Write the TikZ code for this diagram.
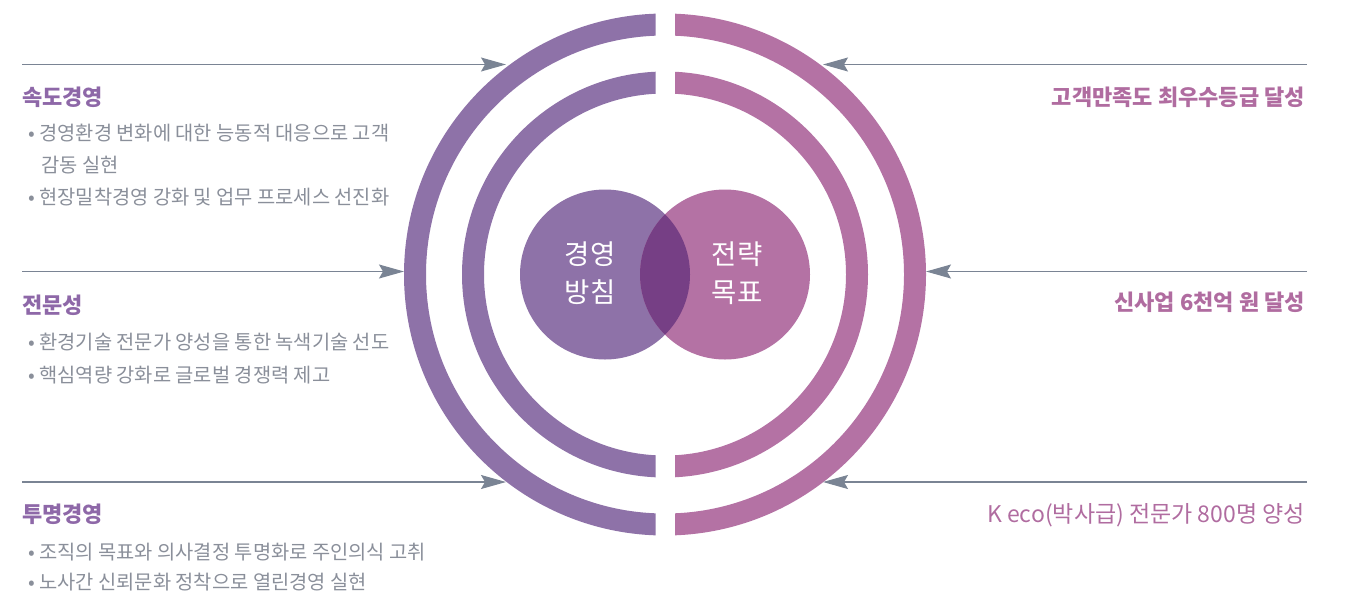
\documentclass[tikz,border=0pt]{standalone}
\usepackage{fontspec}
\setmainfont{Noto Sans CJK KR}
\usetikzlibrary{arrows.meta}
\definecolor{lpurple}{HTML}{8E72A8}
\definecolor{rpink}{HTML}{B472A4}
\definecolor{overlap}{HTML}{763F85}
\definecolor{arrowc}{HTML}{7A8494}
\definecolor{headc}{HTML}{8E68A8}
\definecolor{headr}{HTML}{B06CA0}
\definecolor{bodyc}{HTML}{8A8F9A}
\tikzset{
  conn/.style={draw=arrowc, line width=1.1pt, -{Stealth[length=25pt,width=14pt,inset=4pt,fill=arrowc]}},
  head/.style={anchor=west, inner sep=0pt, font=\fontsize{22}{26}\selectfont\bfseries, text=headc},
  headright/.style={anchor=east, inner sep=0pt, font=\fontsize{22}{26}\selectfont\bfseries, text=headr},
  body/.style={anchor=west, inner sep=0pt, font=\fontsize{19.8}{22}\selectfont, text=bodyc},
  incirc/.style={inner sep=0pt, align=center, text=white, font=\fontsize{27.5}{37.5}\selectfont},
}
\begin{document}
\begin{tikzpicture}[x=1pt,y=-1pt]
\useasboundingbox (0,0) rectangle (1349,598);
% rings
\begin{scope}
  \clip (0,0) rectangle (655.5,598);
  \fill[lpurple, even odd rule] (665,274.5) circle[radius=261pt] circle[radius=239pt];
  \fill[lpurple, even odd rule] (665,274.5) circle[radius=203pt] circle[radius=181pt];
\end{scope}
\begin{scope}
  \clip (675,0) rectangle (1349,598);
  \fill[rpink, even odd rule] (665,274.5) circle[radius=261pt] circle[radius=239pt];
  \fill[rpink, even odd rule] (665,274.5) circle[radius=203pt] circle[radius=181pt];
\end{scope}
% venn
\fill[lpurple] (605,274.5) circle[radius=85pt];
\fill[rpink] (725,274.5) circle[radius=85pt];
\begin{scope}
  \clip (605,274.5) circle[radius=85pt];
  \fill[overlap] (725,274.5) circle[radius=85pt];
\end{scope}
\node[incirc] (lc) at (590,273) {경영\\방침};
\node[incirc] (rc) at (737,273) {전략\\목표};
% arrows
\coordinate (l1s) at (22,64.5);   \coordinate (l1e) at (506,64.5);
\coordinate (l2s) at (22,271.5);  \coordinate (l2e) at (404,271.5);
\coordinate (l3s) at (22,482);    \coordinate (l3e) at (506,482);
\coordinate (r1s) at (1307,64.5); \coordinate (r1e) at (823,64.5);
\coordinate (r2s) at (1307,271.5);\coordinate (r2e) at (926,271.5);
\coordinate (r3s) at (1307,482);  \coordinate (r3e) at (823,482);
\draw[conn] (l1s) -- (l1e);
\draw[conn] (l2s) -- (l2e);
\draw[conn] (l3s) -- (l3e);
\draw[conn] (r1s) -- (r1e);
\draw[conn] (r2s) -- (r2e);
\draw[conn] (r3s) -- (r3e);
% left texts
\node[head] (h1) at (22,97) {속도경영};
\node[body] (b11) at (28,133) {• 경영환경 변화에 대한 능동적 대응으로 고객};
\node[body] (b12) at (41,165) {감동 실현};
\node[body] (b13) at (28,197) {• 현장밀착경영 강화 및 업무 프로세스 선진화};
\node[head] (h2) at (22,305) {전문성};
\node[body] (b21) at (28,342) {• 환경기술 전문가 양성을 통한 녹색기술 선도};
\node[body] (b22) at (28,375) {• 핵심역량 강화로 글로벌 경쟁력 제고};
\node[head] (h3) at (22,514) {투명경영};
\node[body] (b31) at (28,552) {• 조직의 목표와 의사결정 투명화로 주인의식 고취};
\node[body] (b32) at (28,582) {• 노사간 신뢰문화 정착으로 열린경영 실현};
% right texts
\node[headright] (g1) at (1305,97) {고객만족도 최우수등급 달성};
\node[headright] (g2) at (1305,302) {신사업 6천억 원 달성};
\node[headright, font=\fontsize{23}{26}\selectfont] (g3) at (1305,515) {K eco(박사급) 전문가 800명 양성};
\end{tikzpicture}
\end{document}
